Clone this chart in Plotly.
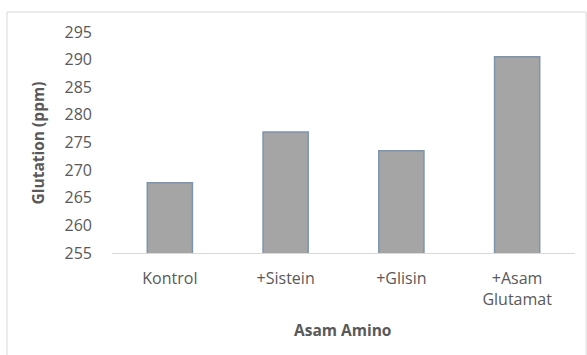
import plotly.graph_objects as go

# Glutation content per amino acid treatment
categories = ["Kontrol", "+Sistein", "+Glisin", "+Asam<br>Glutamat"]
glutation_ppm = [267.7, 276.9, 273.5, 290.5]
y_ticks = [255, 260, 265, 270, 275, 280, 285, 290, 295]

text_color = "#595959"
font_family = "Open Sans, Liberation Sans, sans-serif"

fig = go.Figure(
    go.Bar(
        x=categories,
        y=glutation_ppm,
        width=0.39,
        marker=dict(color="#a5a5a5", line=dict(color="#7d94ad", width=1.5)),
    )
)

fig.update_layout(
    width=587,
    height=355,
    margin=dict(l=112, r=12, t=32, b=102),
    paper_bgcolor="white",
    plot_bgcolor="white",
    showlegend=False,
    font=dict(family=font_family, size=16, color=text_color),
    xaxis=dict(
        showgrid=False,
        showline=True,
        linecolor="#d9d9d9",
        linewidth=1,
        ticks="",
        ticklabelstandoff=11,
        tickfont=dict(size=16, color=text_color),
    ),
    yaxis=dict(
        range=[255, 295],
        tickvals=y_ticks,
        showgrid=False,
        zeroline=False,
        showline=False,
        ticks="",
        ticklabelstandoff=19,
        tickfont=dict(size=16, color=text_color),
    ),
    annotations=[
        dict(
            text="<b>Glutation (ppm)</b>",
            xref="paper", yref="paper",
            x=-0.16, y=0.5,
            xanchor="center", yanchor="middle",
            textangle=-90,
            showarrow=False,
            font=dict(size=15.5, color=text_color),
        ),
        dict(
            text="<b>Asam Amino</b>",
            xref="paper", yref="paper",
            x=0.497, y=-0.35,
            xanchor="center", yanchor="middle",
            showarrow=False,
            font=dict(size=15.5, color=text_color),
        ),
    ],
    shapes=[
        dict(
            type="rect",
            xref="paper", yref="paper",
            x0=-0.2268, x1=1.024, y0=-0.6, y1=1.0905,
            line=dict(color="#d9d9d9", width=1),
            fillcolor="rgba(0,0,0,0)",
            layer="below",
        )
    ],
)

fig.write_html("out.html")
